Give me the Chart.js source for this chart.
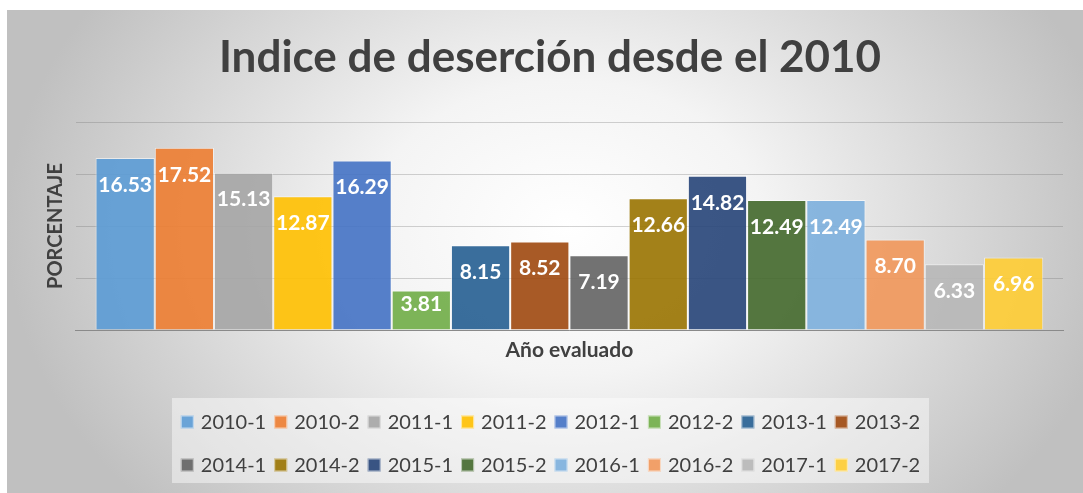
<!DOCTYPE html>
<html>
<head>
<meta charset="utf-8">
<script src="https://cdn.jsdelivr.net/npm/chart.js@4.4.1/dist/chart.umd.min.js"></script>
<style>
  html, body { margin: 0; padding: 0; background: #fff; }
  #wrap {
    position: absolute; left: 7px; top: 10px; width: 1076px; height: 483px;
    background: radial-gradient(ellipse 560px 420px at 52% 45%, #ffffff 0%, #f4f4f4 35%, #c0c0c0 100%);
  }
</style>
</head>
<body>
<div id="wrap"><canvas id="chart"></canvas></div>
<script>
const periodos = ['2010-1', '2010-2', '2011-1', '2011-2', '2012-1', '2012-2', '2013-1', '2013-2',
  '2014-1', '2014-2', '2015-1', '2015-2', '2016-1', '2016-2', '2017-1', '2017-2'];
const indices = [16.53, 17.52, 15.13, 12.87, 16.29, 3.81, 8.15, 8.52,
  7.19, 12.66, 14.82, 12.49, 12.49, 8.70, 6.33, 6.96];
const colores = ['#5B9BD5', '#ED7D31', '#A5A5A5', '#FFC000', '#4472C4', '#70AD47', '#255E91', '#9E480E',
  '#636363', '#997300', '#264478', '#43682B', '#7CAFDD', '#F1975A', '#B7B7B7', '#FFCD33'];
const yTicks = [0, 5, 10, 15, 20];

function _alpha(hex, a) {
  const n = parseInt(hex.slice(1), 16);
  return `rgba(${(n >> 16) & 255},${(n >> 8) & 255},${n & 255},${a})`;
}

// etiquetas blancas dentro del extremo de cada barra
const etiquetas = {
  id: 'etiquetas',
  afterDatasetsDraw(chart) {
    const ctx = chart.ctx;
    ctx.save();
    ctx.font = 'bold 21px Lato';
    ctx.fillStyle = '#ffffff';
    ctx.textAlign = 'center';
    ctx.textBaseline = 'middle';
    chart.data.datasets.forEach((ds, i) => {
      const bar = chart.getDatasetMeta(i).data[0];
      if (!bar) return;
      const y = Math.min(bar.y + 27, bar.base - 25);
      ctx.fillText(ds.data[0].toFixed(2), bar.x, y);
    });
    ctx.restore();
  }
};

// leyenda en dos filas de 8, como en el original
const leyenda = {
  id: 'leyenda',
  afterDraw(chart) {
    const ctx = chart.ctx;
    const cx = 543.5;
    ctx.save();
    ctx.fillStyle = 'rgba(255,255,255,0.45)';
    ctx.fillRect(165, 388, 757, 85);
    ctx.font = '20px Lato';
    ctx.textBaseline = 'middle';
    const filas = [periodos.slice(0, 8), periodos.slice(8)];
    filas.forEach((fila, r) => {
      const y = 412 + r * 43;
      const anchos = fila.map(t => ctx.measureText(t).width);
      const total = anchos.reduce((s, w) => s + 13 + 7 + w + 8, 0) - 8;
      let x = cx - total / 2;
      fila.forEach((t, j) => {
        const idx = r * 8 + j;
        ctx.fillStyle = _alpha(colores[idx], 0.9);
        ctx.fillRect(x, y - 6.5, 13, 13);
        ctx.strokeStyle = 'rgba(255,255,255,0.6)';
        ctx.lineWidth = 1;
        ctx.strokeRect(x + 0.5, y - 6, 12, 12);
        ctx.fillStyle = '#404040';
        ctx.fillText(t, x + 20, y + 1);
        x += 13 + 7 + anchos[j] + 8;
      });
    });
    ctx.restore();
  }
};

const ctx = document.getElementById('chart');
new Chart(ctx.getContext('2d'), {
  type: 'bar',
  data: {
    labels: [''],
    datasets: periodos.map((p, i) => ({
      label: p,
      data: [indices[i]],
      backgroundColor: _alpha(colores[i], 0.9),
      borderColor: 'rgba(255,255,255,0.55)',
      borderWidth: 1,
      categoryPercentage: 0.96,
      barPercentage: 1
    }))
  },
  options: {
    responsive: true,
    maintainAspectRatio: false,
    animation: false,
    layout: { padding: { left: 30, right: 20, top: 0, bottom: 130.4 } },
    plugins: {
      legend: { display: false },
      tooltip: { enabled: false },
      title: {
        display: true,
        text: 'Indice de deserción desde el 2010',
        color: '#404040',
        font: { family: 'Lato', size: 44, weight: 'bold' },
        padding: { top: 21.6, bottom: 37.6 }
      }
    },
    scales: {
      x: {
        grid: { display: false, drawTicks: false },
        ticks: { display: false },
        border: { display: true, color: '#8a8a8a', width: 1 },
        title: {
          display: true, text: 'Año evaluado', color: '#404040',
          font: { family: 'Lato', size: 21, weight: 'bold' },
          padding: { top: 7.4, bottom: 0 }
        }
      },
      y: {
        min: 0, max: 20,
        afterBuildTicks: s => { s.ticks = yTicks.map(v => ({ value: v })); },
        grid: { color: 'rgba(110,110,110,0.3)', drawTicks: false },
        ticks: { display: false },
        border: { display: false },
        title: {
          display: true, text: 'PORCENTAJE', color: '#404040',
          font: { family: 'Lato', size: 20, weight: 'bold' },
          padding: { top: 7, bottom: 7.8 }
        }
      }
    }
  },
  plugins: [etiquetas, leyenda]
});
</script>
</body>
</html>
